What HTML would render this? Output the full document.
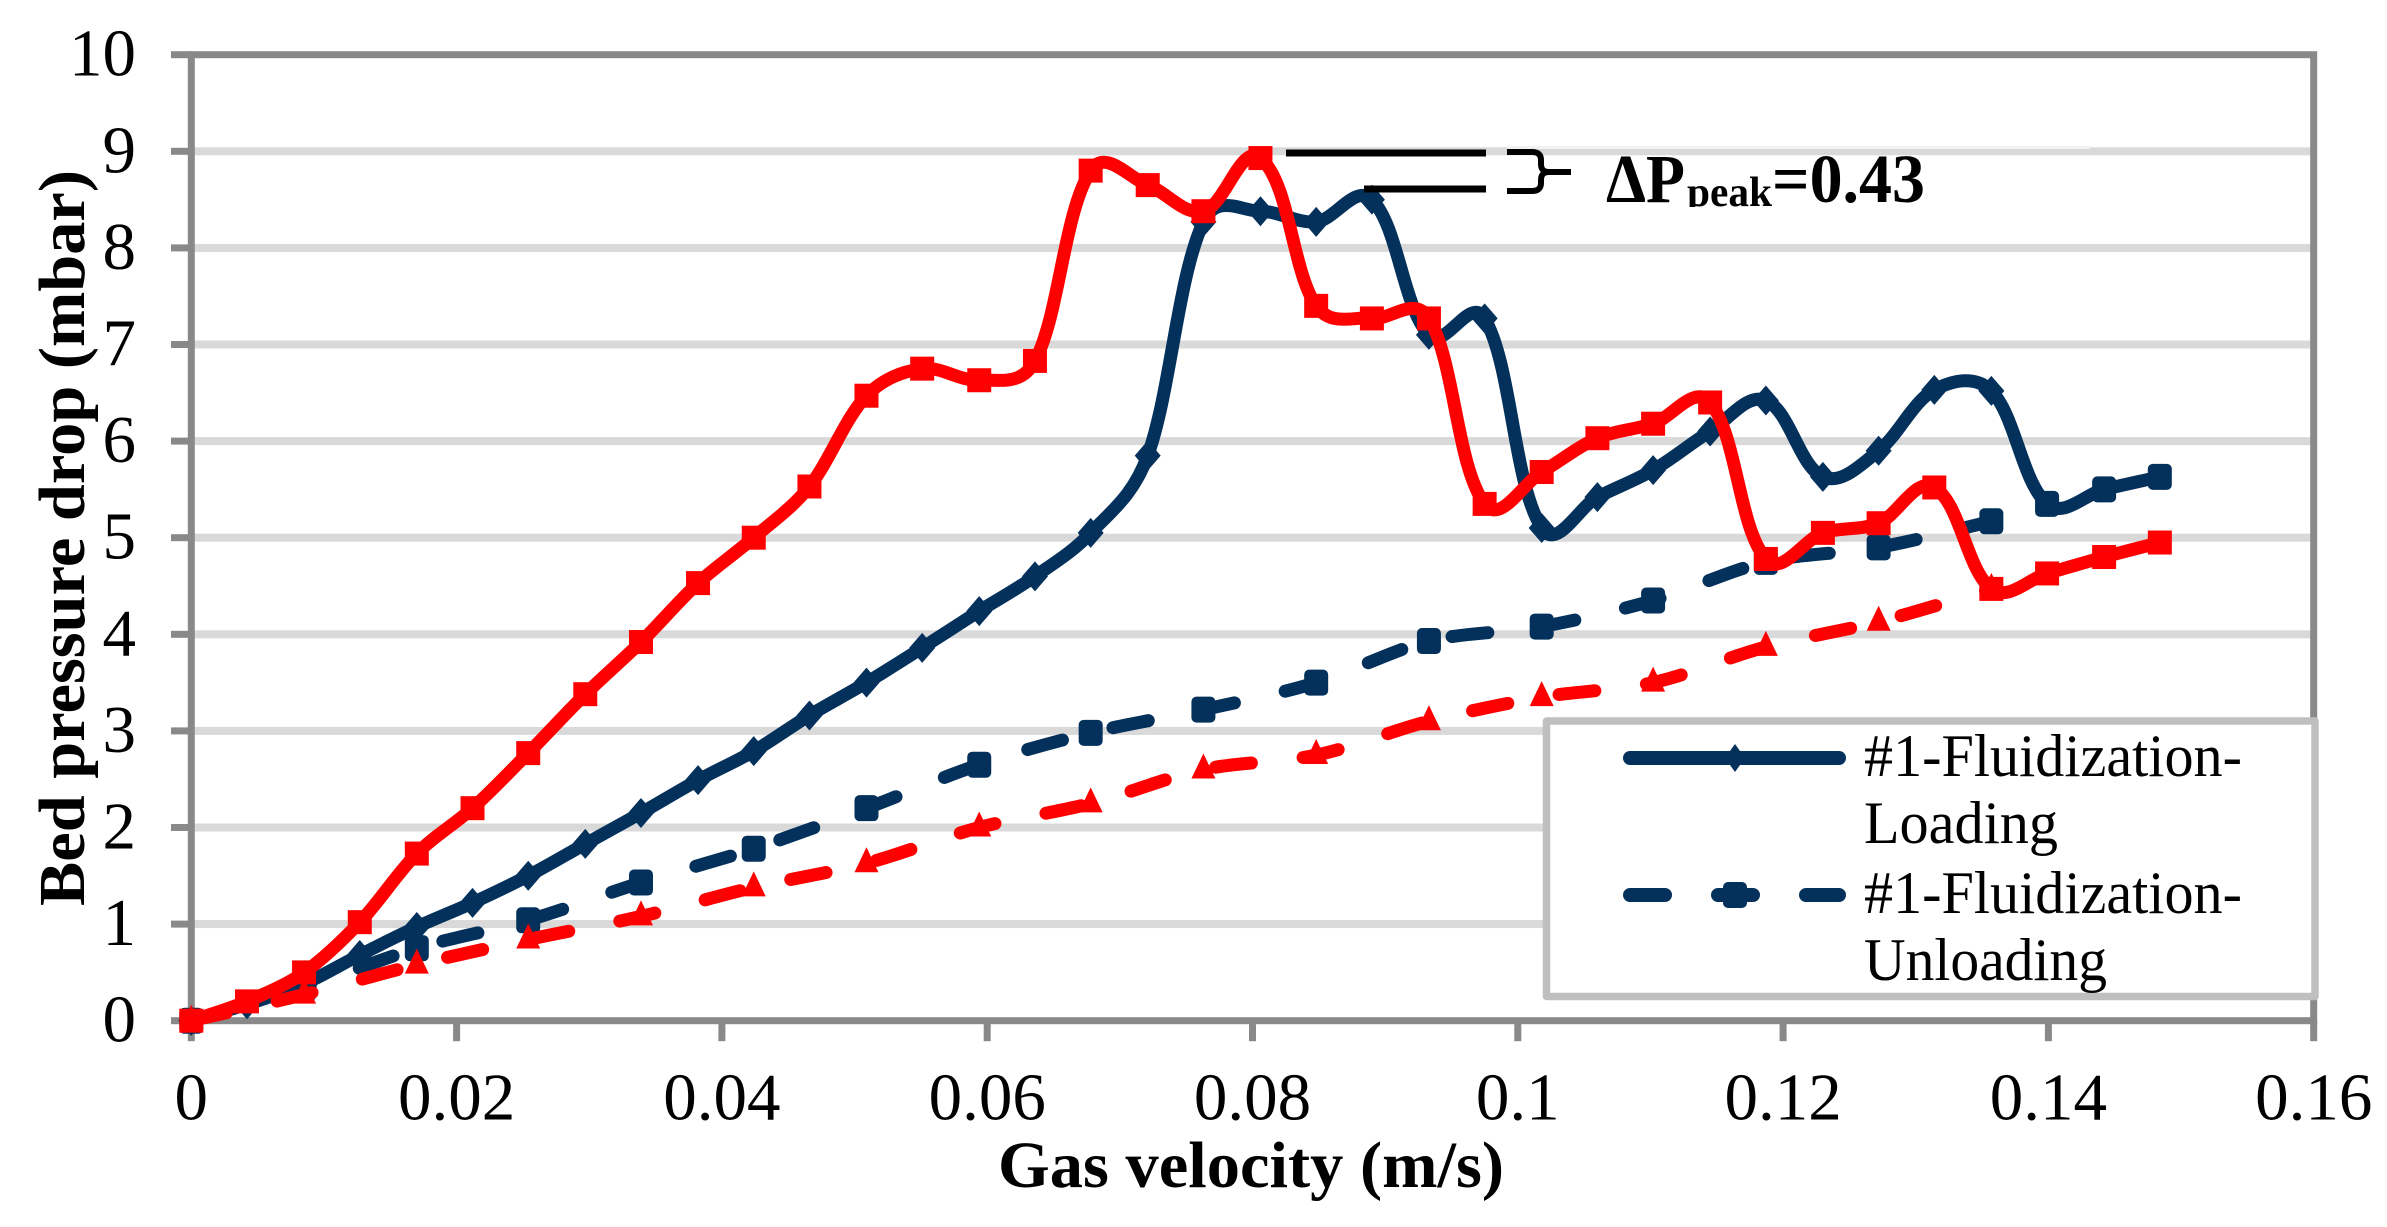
<!DOCTYPE html>
<html lang="en">
<head>
<meta charset="utf-8">
<title>Bed pressure drop vs gas velocity</title>
<style>
html,body{margin:0;padding:0;background:#fff;}
svg{display:block;}
text{font-family:"Liberation Serif",serif;fill:#000;}
</style>
</head>
<body>
<svg id="chart" xmlns="http://www.w3.org/2000/svg" width="2387" height="1227" viewBox="0 0 2387 1227">
  <rect x="0" y="0" width="2387" height="1227" fill="#ffffff"/>
  <g id="grid"></g>
  <g id="axes"></g>
  <g id="series"></g>

  <rect x="1507" y="146" width="583" height="3" fill="#f1f1f1"/>
  <line x1="1286" y1="153" x2="1486" y2="153" stroke="#000" stroke-width="7"/>
  <line x1="1364" y1="189" x2="1486" y2="189" stroke="#000" stroke-width="7"/>
  <path d="M1507 152H1532Q1541 152 1541 160V164Q1541 172 1549 172H1571M1549 172Q1541 172 1541 180V183Q1541 191 1532 191H1507" fill="none" stroke="#000" stroke-width="6"/>
  <defs>
    <clipPath id="subClip"><rect x="1680" y="160" width="100" height="47"/></clipPath>
  </defs>
  <text x="1606" y="202" font-size="69" font-weight="bold" textLength="79" lengthAdjust="spacingAndGlyphs">ΔP</text>
  <text x="1687" y="206" font-size="42" font-weight="bold" textLength="85" lengthAdjust="spacingAndGlyphs" clip-path="url(#subClip)">peak</text>
  <text x="1772" y="202" font-size="69" font-weight="bold" textLength="153" lengthAdjust="spacingAndGlyphs">=0.43</text>

  <g>
    <rect x="1546.5" y="721" width="768.5" height="275.5" fill="#ffffff" stroke="#bfbfbf" stroke-width="7.5" stroke-linejoin="round"/>
    <line x1="1630" y1="758" x2="1839" y2="758" stroke="#03315c" stroke-width="14" stroke-linecap="round"/>
    <polygon points="1735,744 1745,758 1735,772 1725,758" fill="#03315c"/>
    <text x="1864" y="776" font-size="60" textLength="378" lengthAdjust="spacingAndGlyphs">#1-Fluidization-</text>
    <text x="1864" y="843" font-size="60" textLength="194" lengthAdjust="spacingAndGlyphs">Loading</text>
    <line x1="1630" y1="895" x2="1839" y2="895" stroke="#03315c" stroke-width="14" stroke-linecap="round" stroke-dasharray="35 53"/>
    <rect x="1723" y="882" width="24" height="26" rx="5" fill="#03315c"/>
    <text x="1864" y="913" font-size="60" textLength="378" lengthAdjust="spacingAndGlyphs">#1-Fluidization-</text>
    <text x="1864" y="980" font-size="60" textLength="243" lengthAdjust="spacingAndGlyphs">Unloading</text>
  </g>

  <text x="998" y="1187" font-size="66" font-weight="bold" textLength="506" lengthAdjust="spacingAndGlyphs">Gas velocity (m/s)</text>
  <text transform="translate(84,906) rotate(-90)" x="0" y="0" font-size="66" font-weight="bold" textLength="736" lengthAdjust="spacingAndGlyphs">Bed pressure drop (mbar)</text>
</svg>
<script>
const xTicks = [0, 0.02, 0.04, 0.06, 0.08, 0.1, 0.12, 0.14, 0.16];
const xTickLabels = ['0', '0.02', '0.04', '0.06', '0.08', '0.1', '0.12', '0.14', '0.16'];
const yTicks = [0, 1, 2, 3, 4, 5, 6, 7, 8, 9, 10];
const yTickLabels = ['0', '1', '2', '3', '4', '5', '6', '7', '8', '9', '10'];

const velocityLoading = [0, 0.0042, 0.0085, 0.0127, 0.017, 0.0212, 0.0254, 0.0297, 0.0339, 0.0382, 0.0424, 0.0466, 0.0509, 0.0551, 0.0594, 0.0636, 0.0678, 0.0721, 0.0763, 0.0806, 0.0848, 0.089, 0.0933, 0.0975, 0.1018, 0.106, 0.1102, 0.1145, 0.1187, 0.123, 0.1272, 0.1314, 0.1357, 0.1399, 0.1442, 0.1484];
const velocityUnloading = [0, 0.0085, 0.017, 0.0254, 0.0339, 0.0424, 0.0509, 0.0594, 0.0678, 0.0763, 0.0848, 0.0933, 0.1018, 0.1102, 0.1187, 0.1272, 0.1357];

const navyLoading = [0, 0.17, 0.38, 0.68, 0.97, 1.22, 1.5, 1.83, 2.15, 2.49, 2.79, 3.16, 3.5, 3.86, 4.24, 4.6, 5.05, 5.85, 8.27, 8.38, 8.27, 8.5, 7.1, 7.27, 5.1, 5.42, 5.7, 6.1, 6.42, 5.63, 5.9, 6.53, 6.52, 5.35, 5.5, 5.63];
const navyUnloading = [0, 0.34, 0.75, 1.04, 1.43, 1.78, 2.2, 2.65, 2.98, 3.22, 3.5, 3.93, 4.08, 4.35, 4.75, 4.9, 5.17];
const redUnloading = [0, 0.27, 0.58, 0.84, 1.08, 1.38, 1.63, 2.0, 2.25, 2.6, 2.75, 3.1, 3.35, 3.5, 3.87, 4.13, 4.47];
const redLoading = [0, 0.2, 0.5, 1.02, 1.73, 2.2, 2.77, 3.38, 3.92, 4.53, 5.0, 5.53, 6.47, 6.75, 6.63, 6.83, 8.8, 8.65, 8.38, 8.93, 7.4, 7.27, 7.27, 5.35, 5.68, 6.03, 6.18, 6.4, 4.78, 5.05, 5.15, 5.52, 4.47, 4.63, 4.8, 4.95];

const NS = 'http://www.w3.org/2000/svg';
function xScale(v) { return 191.3 + v / 0.02 * 265.3; }
function yScale(v) { return 1020.7 - v * 96.6; }

function make(tag, attrs, parent) {
  const el = document.createElementNS(NS, tag);
  for (const k in attrs) el.setAttribute(k, attrs[k]);
  parent.appendChild(el);
  return el;
}

const gridLayer = document.getElementById('grid');
const axesLayer = document.getElementById('axes');
const seriesLayer = document.getElementById('series');

yTicks.forEach(function (t, i) {
  if (t > 0 && t < 10) {
    const g = make('rect', { x: xScale(0), y: yScale(t) - 4, width: xScale(0.16) - xScale(0), height: 8, fill: '#d9d9d9' }, gridLayer);
    
    
  }
  const tick = make('rect', { x: 171, y: yScale(t) - 3.5, width: 20, height: 7, fill: '#898989' }, axesLayer);
  
  
  const lab = make('text', { x: 136, y: yScale(t) + 21, 'font-size': 67, 'text-anchor': 'end' }, axesLayer);
  lab.textContent = yTickLabels[i];
  
  
});

xTicks.forEach(function (t, i) {
  const tick = make('rect', { x: xScale(t) - 3.5, y: yScale(0), width: 7, height: 20.5, fill: '#898989' }, axesLayer);
  
  
  const lab = make('text', { x: xScale(t), y: 1119.5, 'font-size': 67, 'text-anchor': 'middle' }, axesLayer);
  lab.textContent = xTickLabels[i];
  
  
});

const frame = make('rect', { x: xScale(0), y: yScale(10), width: xScale(0.16) - xScale(0), height: yScale(0) - yScale(10), fill: 'none', stroke: '#898989', 'stroke-width': 7 }, axesLayer);



function smoothPath(xs, ys) {
  const p = xs.map(function (x, i) { return [xScale(x), yScale(ys[i])]; });
  let d = 'M' + p[0][0].toFixed(1) + ' ' + p[0][1].toFixed(1);
  for (let i = 0; i < p.length - 1; i++) {
    const a = p[Math.max(i - 1, 0)], b = p[i], c = p[i + 1], e = p[Math.min(i + 2, p.length - 1)];
    const seg = Math.hypot(c[0] - b[0], c[1] - b[1]) || 1;
    const l1 = Math.hypot(c[0] - a[0], c[1] - a[1]) || 1;
    const l2 = Math.hypot(e[0] - b[0], e[1] - b[1]) || 1;
    const k = 0.33;
    const s1 = 0.5 * seg * k / l1 + 0.5 / 6;
    const s2 = 0.5 * seg * k / l2 + 0.5 / 6;
    const c1x = b[0] + (c[0] - a[0]) * s1, c1y = b[1] + (c[1] - a[1]) * s1;
    const c2x = c[0] - (e[0] - b[0]) * s2, c2y = c[1] - (e[1] - b[1]) * s2;
    d += 'C' + c1x.toFixed(1) + ' ' + c1y.toFixed(1) + ' ' + c2x.toFixed(1) + ' ' + c2y.toFixed(1) + ' ' + c[0].toFixed(1) + ' ' + c[1].toFixed(1);
  }
  return d;
}

function drawMarker(shape, cx, cy, color, parent) {
  let m;
  if (shape === 'diamond') {
    m = make('polygon', { points: [cx + ',' + (cy - 15), (cx + 13) + ',' + cy, cx + ',' + (cy + 15), (cx - 13) + ',' + cy].join(' '), fill: color }, parent);
  } else if (shape === 'round-square') {
    m = make('rect', { x: cx - 12, y: cy - 13, width: 24, height: 26, rx: 5, fill: color }, parent);
  } else if (shape === 'square') {
    m = make('rect', { x: cx - 12, y: cy - 12, width: 24, height: 24, fill: color }, parent);
  } else {
    m = make('polygon', { points: [cx + ',' + (cy - 16), (cx + 12) + ',' + (cy + 9), (cx - 12) + ',' + (cy + 9)].join(' '), fill: color }, parent);
  }
  return m;
}

function drawSeries(name, xs, ys, color, dashed, shape, tailFrom, tailShape) {
  const g = make('g', {}, seriesLayer);
  
  
  const attrs = { d: smoothPath(xs, ys), fill: 'none', stroke: color, 'stroke-width': 13, 'stroke-linecap': 'round', 'stroke-linejoin': 'round' };
  if (dashed) attrs['stroke-dasharray'] = '36 52';
  const line = make('path', attrs, g);
  
  
  xs.forEach(function (x, i) {
    const s = (tailShape && i >= tailFrom) ? tailShape : shape;
    const m = drawMarker(s, xScale(x), yScale(ys[i]), color, g);
    
    
  });
}

drawSeries('navy-loading-series', velocityLoading, navyLoading, '#03315c', false, 'diamond', 33, 'round-square');
drawSeries('navy-unloading-series', velocityUnloading, navyUnloading, '#03315c', true, 'round-square');
drawSeries('red-unloading-series', velocityUnloading, redUnloading, '#ff0000', true, 'triangle');
drawSeries('red-loading-series', velocityLoading, redLoading, '#ff0000', false, 'square');
</script>
</body>
</html>
